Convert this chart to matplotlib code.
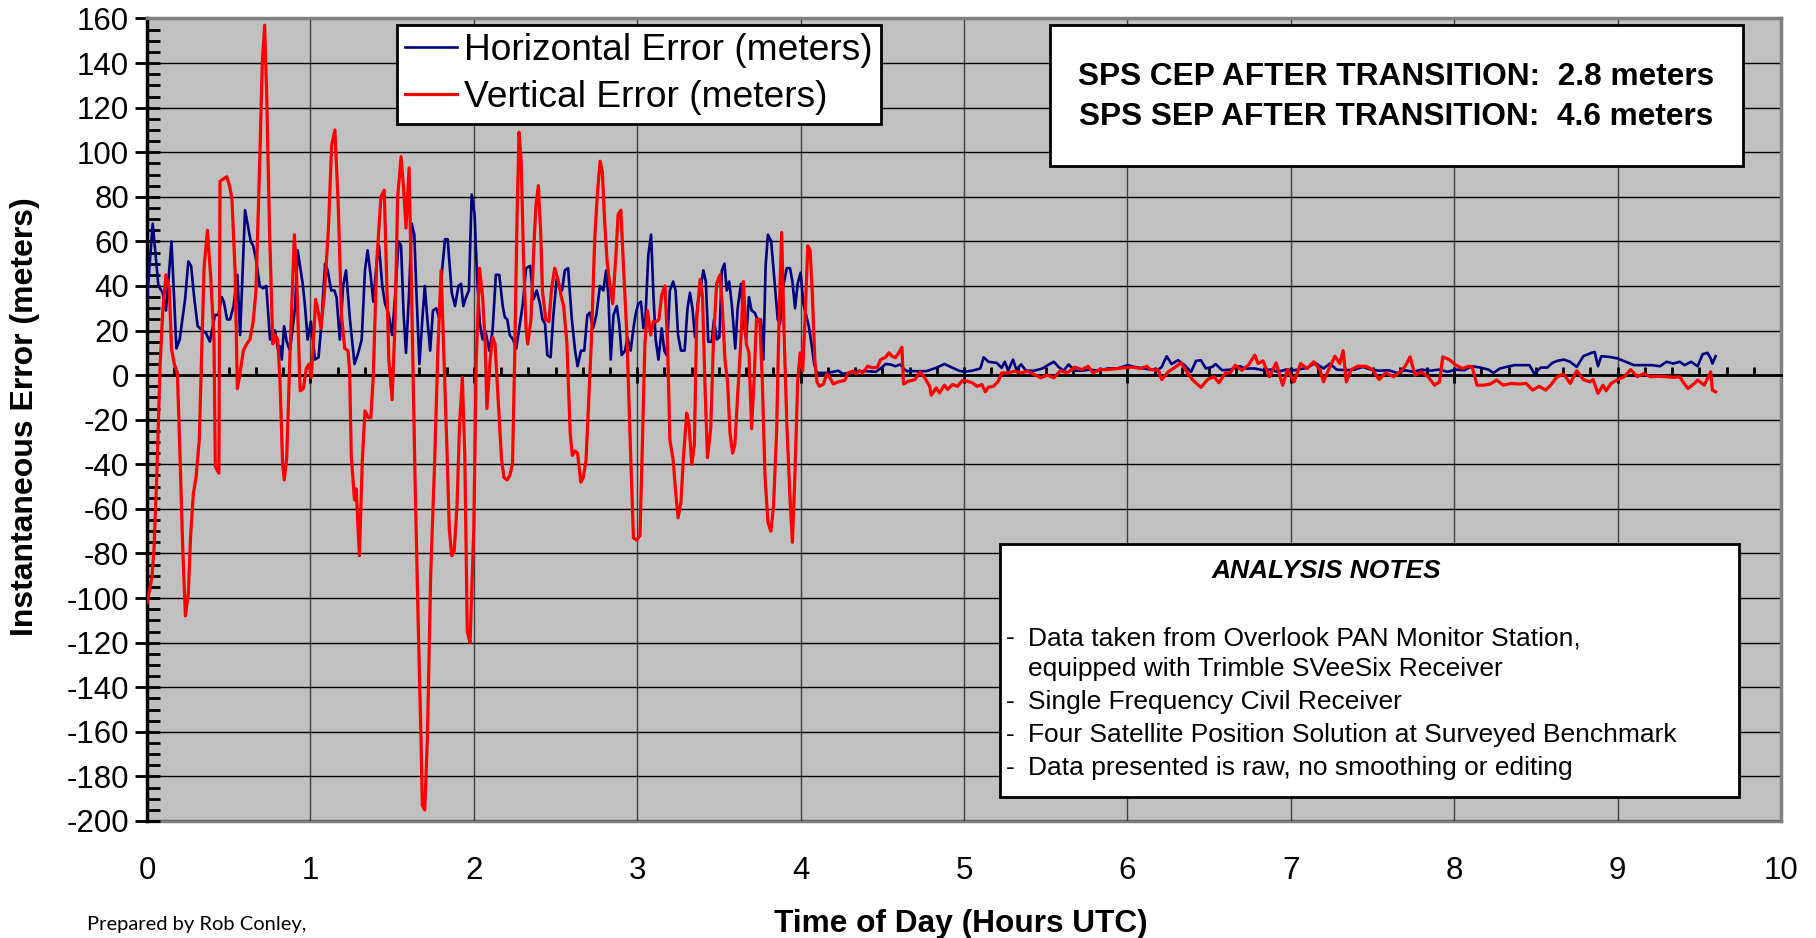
"""
GPS SPS error before / after transition - horizontal and vertical error vs time of day
"""

import matplotlib
matplotlib.use('Agg')
import matplotlib.pyplot as plt
from matplotlib.patches import Rectangle
from matplotlib.ticker import MultipleLocator, FixedLocator

plt.rcParams['font.family'] = ['Liberation Sans', 'DejaVu Sans']
plt.rcParams['axes.unicode_minus'] = False

# horizontal error (hours UTC, meters)
horiz_t = [0.0, 0.035, 0.07, 0.096, 0.116, 0.15, 0.18, 0.2, 0.233, 0.253, 0.27, 0.29, 0.31, 0.34, 0.36,
           0.385, 0.416, 0.437, 0.457, 0.47, 0.49, 0.508, 0.53, 0.553, 0.57, 0.6, 0.635, 0.65, 0.667,
           0.69, 0.71, 0.73, 0.753, 0.77, 0.784, 0.8, 0.814, 0.825, 0.839, 0.855, 0.875, 0.906, 0.922,
           0.953, 0.967, 0.983, 1.003, 1.028, 1.05, 1.065, 1.09, 1.106, 1.127, 1.147, 1.16, 1.18, 1.2,
           1.218, 1.242, 1.27, 1.293, 1.314, 1.334, 1.35, 1.37, 1.385, 1.406, 1.42, 1.44, 1.457, 1.477,
           1.5, 1.518, 1.54, 1.555, 1.57, 1.585, 1.604, 1.62, 1.636, 1.65, 1.667, 1.685, 1.7, 1.716,
           1.733, 1.75, 1.77, 1.787, 1.807, 1.824, 1.84, 1.865, 1.885, 1.906, 1.922, 1.936, 1.953, 1.97,
           1.987, 2.005, 2.02, 2.037, 2.054, 2.07, 2.095, 2.115, 2.135, 2.156, 2.177, 2.19, 2.205, 2.22,
           2.24, 2.26, 2.282, 2.3, 2.32, 2.345, 2.365, 2.385, 2.405, 2.42, 2.436, 2.45, 2.47, 2.487,
           2.507, 2.525, 2.54, 2.557, 2.577, 2.6, 2.62, 2.635, 2.656, 2.676, 2.695, 2.71, 2.73, 2.75,
           2.772, 2.793, 2.81, 2.824, 2.838, 2.855, 2.875, 2.89, 2.905, 2.926, 2.94, 2.96, 2.977, 2.992,
           3.007, 3.023, 3.038, 3.05, 3.068, 3.085, 3.1, 3.113, 3.13, 3.15, 3.166, 3.18, 3.2, 3.22,
           3.235, 3.25, 3.268, 3.29, 3.308, 3.323, 3.338, 3.354, 3.37, 3.39, 3.405, 3.42, 3.435, 3.456,
           3.47, 3.487, 3.503, 3.518, 3.534, 3.548, 3.563, 3.58, 3.6, 3.615, 3.635, 3.65, 3.666, 3.684,
           3.7, 3.72, 3.74, 3.757, 3.772, 3.786, 3.8, 3.82, 3.843, 3.86, 3.874, 3.894, 3.915, 3.935,
           3.95, 3.966, 3.982, 4.0, 4.017, 4.03, 4.05, 4.067, 4.083, 4.1,
           4.118, 4.16, 4.2, 4.23, 4.26, 4.3, 4.34, 4.4, 4.46, 4.49, 4.52, 4.55, 4.58, 4.61, 4.63, 4.65,
           4.7, 4.77, 4.83, 4.88, 4.93, 4.97, 5.0, 5.05, 5.1, 5.12, 5.15, 5.2, 5.23, 5.25, 5.27, 5.3,
           5.32, 5.35, 5.38, 5.43, 5.48, 5.52, 5.55, 5.58, 5.61, 5.64, 5.68, 5.72, 5.77, 5.82, 5.88,
           5.94, 6.0, 6.05, 6.1, 6.14, 6.19, 6.21, 6.24, 6.27, 6.31, 6.35, 6.39, 6.42, 6.45, 6.48, 6.52,
           6.54, 6.58, 6.63, 6.69, 6.72, 6.78, 6.83, 6.88, 6.92, 6.97, 7.02, 7.08, 7.11, 7.15, 7.2,
           7.24, 7.28, 7.34, 7.39, 7.44, 7.49, 7.54, 7.6, 7.65, 7.7, 7.75, 7.8, 7.85, 7.91, 7.96, 8.01,
           8.06, 8.11, 8.16, 8.21, 8.24, 8.28, 8.32, 8.37, 8.43, 8.46, 8.49, 8.53, 8.57, 8.6, 8.63,
           8.67, 8.71, 8.75, 8.79, 8.84, 8.86, 8.88, 8.9, 8.95, 9.0, 9.05, 9.1, 9.16, 9.21, 9.26, 9.3,
           9.34, 9.38, 9.41, 9.45, 9.49, 9.52, 9.55, 9.57, 9.58, 9.6]
horiz_m = [34, 68, 40, 37, 29, 60, 12, 16, 34, 51, 49, 34, 22, 20, 19,
           15, 27, 27, 35, 33, 25, 25, 31, 45, 18, 74, 60, 58, 52,
           40, 39, 40, 16, 20, 20, 12, 13, 7, 22, 15, 11, 30, 56,
           41, 31, 16, 24, 7, 8, 21, 50, 47, 38, 38, 35, 16, 40,
           47, 25, 5, 10, 16, 47, 56, 44, 33, 51, 58, 40, 32, 28,
           18, 35, 60, 58, 28, 10, 37, 68, 63, 35, 5, 25, 40, 25,
           11, 29, 30, 26, 48, 61, 61, 37, 31, 40, 41, 31, 35, 38,
           81, 72, 44, 23, 16, 20, 11, 20, 45, 45, 31, 26, 25, 18,
           16, 12, 23, 32, 48, 49, 34, 38, 32, 25, 23, 9, 8, 27,
           43, 40, 38, 47, 48, 25, 11, 4, 11, 11, 27, 28, 21, 27,
           40, 38, 47, 35, 7, 27, 31, 23, 9, 11, 17, 11, 21, 28,
           32, 33, 21, 25, 54, 63, 35, 16, 7, 21, 11, 9, 38, 42,
           38, 18, 11, 11, 30, 37, 30, 17, 32, 40, 47, 42, 15, 15,
           25, 16, 17, 47, 50, 38, 42, 31, 12, 30, 41, 25, 16, 35,
           29, 28, 24, 25, 7, 49, 63, 60, 40, 25, 23, 40, 48, 48,
           42, 30, 41, 46, 32, 28, 22, 14, 5, 1,
           1, 1, 1.5, 2, 0.6, 1, 1.8, 1.8, 1.5, 3, 5, 4.8, 4, 4.8, 3, 1.8,
           1.8, 1.8, 3.3, 5, 3.3, 2, 1.5, 2, 3, 8, 6, 5.5, 3.3, 6, 2, 7,
           2.5, 4.8, 2, 2, 3, 4.8, 6, 3.6, 2, 4.8, 2, 2, 2.5, 2, 3,
           3, 4.5, 3.6, 3, 2.5, 2.5, 3.7, 8.5, 5, 6.7, 4.5, 1.5, 6.4, 6.7, 3, 3.7,
           5, 2.2, 2.5, 4, 3, 3, 2.2, 2.5, 1.5, 2.5, 2.2, 3, 3.7, 5.5, 3,
           5.2, 2.5, 2.2, 2.5, 3.7, 2.5, 2, 2.2, 1, 2.2, 1.5, 2.5, 2, 2.5, 1.5, 2.5,
           2.2, 4, 3.4, 2.5, 1, 3, 3.7, 4.5, 4.5, 4.5, 0.7, 3.4, 3.4, 5.5, 6.4,
           7, 6, 3.7, 8.5, 10, 10.4, 4, 8.5, 8.2, 7.5, 6, 4.5, 4.5, 4.5, 4, 6,
           5.2, 6, 4.5, 6, 4, 9.4, 10, 7.5, 5.2, 8.5]

# vertical error (hours UTC, meters)
vert_t = [0.0, 0.03, 0.043, 0.06, 0.08, 0.096, 0.116, 0.137, 0.15, 0.167, 0.186, 0.2, 0.218, 0.235,
          0.253, 0.267, 0.284, 0.3, 0.32, 0.335, 0.35, 0.37, 0.39, 0.41, 0.418, 0.44, 0.447, 0.467,
          0.488, 0.505, 0.52, 0.539, 0.553, 0.565, 0.59, 0.61, 0.63, 0.65, 0.667, 0.69, 0.706, 0.72,
          0.733, 0.75, 0.77, 0.784, 0.8, 0.814, 0.83, 0.84, 0.855, 0.875, 0.902, 0.916, 0.937, 0.957,
          0.975, 0.992, 1.005, 1.015, 1.032, 1.049, 1.065, 1.085, 1.11, 1.13, 1.15, 1.17, 1.19, 1.21,
          1.23, 1.24, 1.25, 1.27, 1.28, 1.3, 1.318, 1.334, 1.355, 1.37, 1.385, 1.406, 1.432, 1.452,
          1.467, 1.48, 1.5, 1.518, 1.534, 1.555, 1.57, 1.585, 1.604, 1.62, 1.64, 1.661, 1.677, 1.685,
          1.7, 1.716, 1.736, 1.76, 1.78, 1.8, 1.82, 1.837, 1.85, 1.865, 1.88, 1.897, 1.913, 1.93,
          1.945, 1.96, 1.977, 2.0, 2.015, 2.035, 2.054, 2.07, 2.08, 2.1, 2.115, 2.13, 2.15, 2.17,
          2.185, 2.205, 2.22, 2.237, 2.25, 2.265, 2.277, 2.29, 2.305, 2.32, 2.33, 2.35, 2.37, 2.38,
          2.395, 2.41, 2.42, 2.44, 2.46, 2.475, 2.495, 2.515, 2.536, 2.55, 2.57, 2.59, 2.603, 2.62,
          2.635, 2.655, 2.67, 2.687, 2.7, 2.72, 2.74, 2.757, 2.773, 2.787, 2.8, 2.816, 2.837, 2.85,
          2.87, 2.883, 2.9, 2.916, 2.937, 2.957, 2.977, 2.997, 3.017, 3.03, 3.047, 3.063, 3.083, 3.098,
          3.118, 3.133, 3.15, 3.17, 3.186, 3.2, 3.22, 3.235, 3.25, 3.268, 3.282, 3.303, 3.317, 3.334,
          3.35, 3.364, 3.385, 3.4, 3.415, 3.43, 3.45, 3.466, 3.486, 3.506, 3.52, 3.537, 3.553, 3.568,
          3.584, 3.598, 3.614, 3.635, 3.65, 3.668, 3.684, 3.7, 3.715, 3.73, 3.75, 3.766, 3.782, 3.8,
          3.818, 3.834, 3.853, 3.868, 3.884, 3.9, 3.916, 3.935, 3.95, 3.966, 3.982, 3.997, 4.013, 4.027,
          4.044, 4.058, 4.071, 4.087, 4.1,
          4.115, 4.14, 4.16, 4.18, 4.2, 4.23, 4.27, 4.29, 4.32, 4.34, 4.36, 4.38, 4.41, 4.44, 4.47,
          4.49, 4.52, 4.54, 4.56, 4.58, 4.6, 4.62, 4.63, 4.66, 4.7, 4.73, 4.76, 4.79, 4.8, 4.83, 4.85,
          4.88, 4.9, 4.93, 4.96, 4.99, 5.02, 5.05, 5.08, 5.11, 5.13, 5.15, 5.18, 5.21, 5.23, 5.27,
          5.31, 5.35, 5.39, 5.43, 5.47, 5.51, 5.55, 5.59, 5.63, 5.68, 5.72, 5.76, 5.79, 5.83, 5.88,
          5.94, 5.98, 6.03, 6.08, 6.12, 6.14, 6.19, 6.21, 6.25, 6.3, 6.33, 6.37, 6.4, 6.45, 6.49, 6.53,
          6.56, 6.6, 6.63, 6.66, 6.7, 6.74, 6.78, 6.8, 6.83, 6.87, 6.91, 6.95, 6.98, 7.02, 7.06, 7.1,
          7.14, 7.18, 7.2, 7.23, 7.27, 7.3, 7.32, 7.34, 7.37, 7.41, 7.46, 7.5, 7.54, 7.58, 7.63, 7.67,
          7.7, 7.73, 7.76, 7.8, 7.84, 7.88, 7.91, 7.93, 7.97, 8.01, 8.05, 8.09, 8.11, 8.14, 8.18, 8.22,
          8.26, 8.3, 8.35, 8.4, 8.44, 8.48, 8.52, 8.56, 8.59, 8.63, 8.67, 8.71, 8.75, 8.79, 8.83, 8.85,
          8.88, 8.91, 8.93, 8.96, 9.0, 9.04, 9.08, 9.12, 9.16, 9.2, 9.25, 9.3, 9.34, 9.38, 9.4, 9.43,
          9.47, 9.49, 9.53, 9.57, 9.58, 9.6]
vert_m = [-102, -91, -78, -45, 4, 28, 45, 38, 12, 5, 1, -31, -76, -108,
          -98, -72, -53, -46, -29, 11, 49, 65, 44, 16, -41, -44, 87, 88,
          89, 85, 79, 47, -6, -1, 11, 14, 16, 24, 38, 96, 141, 157,
          124, 65, 14, 18, 16, -3, -40, -47, -37, 9, 63, 44, -7, -6,
          3, 5, -1, 10, 34, 28, 21, 36, 65, 103, 110, 77, 27, 12,
          11, 2, -36, -56, -51, -81, -38, -16, -19, -19, 0, 51, 80, 83,
          42, 7, -11, 23, 80, 98, 84, 66, 93, 35, -45, -115, -163, -193,
          -195, -163, -90, -40, 11, 47, 2, -36, -69, -81, -79, -59, -22, -1,
          -36, -115, -120, -69, 7, 48, 35, 14, -15, 7, 17, 14, -12, -38,
          -46, -47, -45, -40, 7, 72, 109, 96, 51, 21, 14, 25, 61, 76,
          85, 63, 38, 25, 24, 38, 48, 43, 35, 31, 14, -26, -36, -34,
          -35, -48, -46, -38, -17, 16, 61, 82, 96, 91, 70, 51, 38, 32,
          54, 72, 74, 49, 18, -29, -73, -74, -72, -36, 14, 29, 18, 24,
          24, 25, 36, 40, 14, -29, -38, -52, -64, -57, -38, -17, -22, -40,
          -31, 25, 43, 35, -5, -37, -24, 14, 41, 45, 32, 7, -3, -26,
          -35, -31, -10, 16, 42, 14, 10, -24, -3, 25, 25, -3, -45, -66,
          -70, -59, -26, 25, 64, 16, -22, -55, -75, -43, -3, 10, 2, 25,
          58, 56, 38, 7, -3,
          -5, -4, 0.6, -1.2, -4, -3, -2.4, 1, 1.8, 0.6, 2, 1, 4, 3.3, 3.6,
          7, 8, 10, 8.5, 7.8, 10, 12.5, -4, -2.7, -2, 1.5, -1.2, -5, -9, -5.7, -8,
          -4.5, -6.4, -4.2, -5, -2.4, -2.7, -3.4, -5, -4.2, -7.5, -5.4, -5, -2.7, 1, 1,
          1.8, 1, 1.8, 0.3, -1.2, 0, -1.2, 2, 1, 3.6, 2.5, 4, 1, 2.5, 2.5,
          3, 3.3, 3.6, 3, 4, 2.5, 2.2, -2, 1.5, 4, 5.5, 0.7, -2.2, -5.5, -2, -0.7,
          -3.4, 1, 1, 4.5, 2.2, 4.5, 9, 5.2, 6.4, -0.7, 5.5, -4.5, 2.5, -3, 5.2, 3,
          6, 2.2, -3, 2.2, 8.5, 5.2, 11, -3, 2.5, 4, 4, 2.5, -2, 1, -0.7, 1.5,
          4, 8.2, 0, 1.5, -0.7, -4.5, -3, 8.2, 7, 4.5, 3, 4, 3.7, -4.5, -4.5, -4,
          -2.2, -4.5, -3.7, -4, -3.7, -6.7, -5, -6.7, -4.5, -0.7, 0.5, -3.7, 2, -2, -3, -2,
          -8.2, -4.5, -7, -3.7, -2, -0.7, 2.5, -0.7, 0.7, -0.7, -0.5, -0.7, -1, -0.7, -3, -6,
          -3.7, -2.2, -4.5, 1.5, -6.7, -7.5]

hour_ticks = list(range(0, 11))
legend_labels = ['Horizontal Error (meters)', 'Vertical Error (meters)']
sps_lines = ['SPS CEP AFTER TRANSITION:  2.8 meters',
             'SPS SEP AFTER TRANSITION:  4.6 meters']
notes = ['Data taken from Overlook PAN Monitor Station,',
         'equipped with Trimble SVeeSix Receiver',
         'Single Frequency Civil Receiver',
         'Four Satellite Position Solution at Surveyed Benchmark',
         'Data presented is raw, no smoothing or editing']
notes_dash = [True, False, True, True, True]

# figure et axes (pixels -> fractions)
W, H = 1816, 938
fig = plt.figure(figsize=(W / 100, H / 100), dpi=100)
ax = fig.add_axes([147 / W, 117 / H, 1634 / W, 802.5 / H])
ax.set_facecolor('#C0C0C0')
ax.set_xlim(0, 10)
ax.set_ylim(-200, 160)

ax.plot(horiz_t, horiz_m, color='#000080', lw=1.9, label=legend_labels[0], zorder=3)
ax.plot(vert_t, vert_m, color='#FF0000', lw=2.3, label=legend_labels[1], zorder=4)

# grille
ax.yaxis.set_major_locator(MultipleLocator(20))
ax.yaxis.set_minor_locator(MultipleLocator(5))
ax.xaxis.set_major_locator(FixedLocator(hour_ticks))
ax.xaxis.set_minor_locator(MultipleLocator(1 / 6))
ax.set_axisbelow(True)
ax.grid(axis='y', which='major', color='black', lw=1.0)
ax.grid(axis='x', which='major', color='#404040', lw=1.0)

# axes
ax.spines['bottom'].set_position(('data', 0))
ax.spines['bottom'].set_color('black')
ax.spines['bottom'].set_linewidth(2)
ax.spines['left'].set_linewidth(2.5)
for s in ['top', 'right']:
    ax.spines[s].set_color('#808080')
    ax.spines[s].set_linewidth(2.5)

ax.tick_params(axis='x', which='major', direction='inout', length=12, width=2, labelbottom=False)
ax.tick_params(axis='x', which='minor', direction='in', length=6, width=2)
ax.tick_params(axis='y', which='major', direction='inout', length=18, width=2, labelsize=22.5, pad=4)
ax.tick_params(axis='y', which='minor', direction='in', length=9, width=2)

# labels de l'axe x en bas du graphe
sec = ax.secondary_xaxis('bottom')
sec.set_xticks(hour_ticks)
sec.tick_params(length=0, labelsize=22.5, pad=25)
sec.spines['bottom'].set_color('#808080')
sec.spines['bottom'].set_linewidth(2.5)

fig.text(25 / W, 1 - 417 / H, 'Instantaneous Error (meters)', rotation=90, ha='center', va='center',
         fontsize=23, fontweight='bold')
fig.text(961 / W, 1 - 924 / H, 'Time of Day (Hours UTC)', ha='center', va='center',
         fontsize=22.8, fontweight='bold')
fig.text(87 / W, 1 - 924 / H, 'Prepared by Rob Conley,', ha='left', va='center',
         fontsize=14.5, family=['Lato', 'DejaVu Sans'])

# legende
leg = ax.legend(loc='upper left', bbox_to_anchor=(0.153, 0.9919), fontsize=26.7, frameon=True,
                fancybox=False, edgecolor='black', framealpha=1, borderpad=0.22, labelspacing=0.33,
                handlelength=1.4, handletextpad=0.2, borderaxespad=0)
leg.get_frame().set_linewidth(2)
leg.set_zorder(6)

# boite SPS
ax.add_patch(Rectangle((0.5526, 0.8162), 0.4241, 0.1757, transform=ax.transAxes,
                       facecolor='white', edgecolor='black', lw=2, zorder=6))
ax.text(0.7647, 0.9265, sps_lines[0], transform=ax.transAxes, ha='center', va='center',
        fontsize=22.8, fontweight='bold', zorder=7)
ax.text(0.7647, 0.8778, sps_lines[1], transform=ax.transAxes, ha='center', va='center',
        fontsize=22.8, fontweight='bold', zorder=7)

# boite des notes
ax.add_patch(Rectangle((0.522, 0.0299), 0.4523, 0.3153, transform=ax.transAxes,
                       facecolor='white', edgecolor='black', lw=2, zorder=6))
ax.text(0.7215, 0.3115, 'ANALYSIS NOTES', transform=ax.transAxes, ha='center', va='center',
        fontsize=19, fontweight='bold', fontstyle='italic', zorder=7)
ny = [0.2280, 0.1894, 0.1483, 0.1072, 0.0660]
for i in range(len(notes)):
    if notes_dash[i]:
        ax.text(0.5257, ny[i], '-', transform=ax.transAxes, ha='left', va='center', fontsize=19, zorder=7)
    ax.text(0.5392, ny[i], notes[i], transform=ax.transAxes, ha='left', va='center', fontsize=19, zorder=7)

fig.savefig('out.png', dpi=100)
